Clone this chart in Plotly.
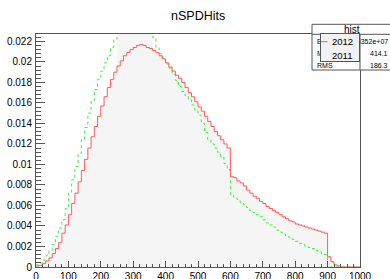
import plotly.graph_objects as go

# bin edges: 100 bins of width 10 from 0 to 1000
bin_lo = list(range(0, 1000, 10))

red_2012 = [0.0001, 0.00017, 0.00033, 0.00059, 0.00088, 0.0013, 0.0018, 0.0024, 0.0033, 0.0041,
            0.0051, 0.0062, 0.0072, 0.0083, 0.0094, 0.0105, 0.0116, 0.0127, 0.0137, 0.0147,
            0.0157, 0.0166, 0.0175, 0.0183, 0.0190, 0.0196, 0.0201, 0.0206, 0.0209, 0.0212,
            0.0214, 0.0216, 0.0217, 0.0216, 0.0214, 0.0213, 0.0211, 0.0209, 0.0206, 0.0203,
            0.0199, 0.0195, 0.0191, 0.0187, 0.0184, 0.0180, 0.0175, 0.0170, 0.0166, 0.0161,
            0.0156, 0.0152, 0.0147, 0.0142, 0.0137, 0.0132, 0.0128, 0.0124, 0.0120, 0.0116,
            0.0088, 0.0087, 0.0084, 0.0082, 0.0079, 0.0075, 0.0072, 0.0069, 0.0067, 0.0064,
            0.0062, 0.0059, 0.0057, 0.0055, 0.0053, 0.0051, 0.0049, 0.0047, 0.0045, 0.0044,
            0.0042, 0.0041, 0.0040, 0.0039, 0.0038, 0.0037, 0.0036, 0.0035, 0.0034, 0.0033,
            0.0010, 0.0005, 0.0002, 0.0001, 0.0, 0.0, 0.0, 0.0, 0.0, 0.0]

green_2011 = [0.0002, 0.0004, 0.0007, 0.0011, 0.0016, 0.0022, 0.0030, 0.0038, 0.0046, 0.0057,
              0.0072, 0.0085, 0.0098, 0.0111, 0.0124, 0.0136, 0.0150, 0.0162, 0.0173, 0.0183,
              0.0191, 0.0199, 0.0206, 0.0214, 0.0222, 0.0229, 0.0234, 0.0238, 0.0241, 0.0243,
              0.0244, 0.0244, 0.0243, 0.0241, 0.0237, 0.0231, 0.0224, 0.0214, 0.0208, 0.0202,
              0.0198, 0.0194, 0.0188, 0.0182, 0.0176, 0.0171, 0.0167, 0.0163, 0.0158, 0.0153,
              0.0148, 0.0140, 0.0131, 0.0124, 0.0120, 0.0116, 0.0112, 0.0107, 0.0101, 0.0095,
              0.0070, 0.0068, 0.0066, 0.0063, 0.0061, 0.0058, 0.0055, 0.0053, 0.0051, 0.0049,
              0.0046, 0.0043, 0.0041, 0.0039, 0.0036, 0.0034, 0.0032, 0.0030, 0.0029, 0.0027,
              0.0025, 0.0023, 0.0022, 0.0020, 0.0019, 0.0018, 0.0016, 0.0015, 0.0013, 0.0012,
              0.0, 0.0, 0.0, 0.0, 0.0, 0.0, 0.0, 0.0, 0.0, 0.0]

hist_fill = [0.0001, 0.00017, 0.00033, 0.00059, 0.00088, 0.0013, 0.0018, 0.0024, 0.0033, 0.0041,
             0.0051, 0.0062, 0.0072, 0.0083, 0.0094, 0.0105, 0.0116, 0.0127, 0.0137, 0.0147,
             0.0157, 0.0166, 0.0175, 0.0183, 0.0190, 0.0229, 0.0234, 0.0238, 0.0241, 0.0243,
             0.0244, 0.0244, 0.0243, 0.0241, 0.0237, 0.0231, 0.0211, 0.0209, 0.0206, 0.0203,
             0.0199, 0.0195, 0.0191, 0.0187, 0.0184, 0.0180, 0.0175, 0.0170, 0.0166, 0.0161,
             0.0156, 0.0152, 0.0147, 0.0142, 0.0137, 0.0132, 0.0128, 0.0124, 0.0120, 0.0116,
             0.0088, 0.0087, 0.0084, 0.0082, 0.0079, 0.0075, 0.0072, 0.0069, 0.0067, 0.0064,
             0.0062, 0.0059, 0.0057, 0.0055, 0.0053, 0.0051, 0.0049, 0.0047, 0.0045, 0.0044,
             0.0042, 0.0041, 0.0040, 0.0039, 0.0038, 0.0037, 0.0036, 0.0035, 0.0034, 0.0033,
             0.0010, 0.0005, 0.0002, 0.0001, 0.0, 0.0, 0.0, 0.0, 0.0, 0.0]

series_names = ["2012", "2011"]
stats_labels = ["Entries", "Mean", "RMS"]
stats_values = ["1.3352e+07", "414.1", "186.3"]

FONT = "Liberation Sans, Arial, sans-serif"
RED = "#ff5a5a"
GREEN = "#3fef3f"
FRAME = "#555555"
XMAX, YMAX = 1000, 0.02272

def steps(vals):
    xs = bin_lo + [1000]
    ys = vals + [vals[-1]]
    return xs, ys

W, H = 390, 279
L, R, T, B = 36, 30, 34, 12
PW, PH = W - L - R, H - T - B

def px(xp):
    return (xp - L) / PW

def py(yp):
    return (H - B - yp) / PH

fig = go.Figure()
x, y = steps(hist_fill)
fig.add_trace(go.Scatter(x=x, y=y, mode="lines", line=dict(shape="hv", width=0, color="#f5f5f5"),
                         fill="tozeroy", fillcolor="#f5f5f5", showlegend=False, hoverinfo="skip"))
x, y = steps(green_2011)
fig.add_trace(go.Scatter(x=x, y=y, mode="lines", name=series_names[1],
                         line=dict(shape="hv", width=1, color=GREEN, dash="dot"), showlegend=False))
x, y = steps(red_2012)
fig.add_trace(go.Scatter(x=x, y=y, mode="lines", name=series_names[0],
                         line=dict(shape="hv", width=1, color=RED), showlegend=False))

fig.update_layout(
    width=W, height=H, margin=dict(l=L, r=R, t=T, b=B, autoexpand=False),
    paper_bgcolor="white", plot_bgcolor="white",
    font=dict(family=FONT, size=10, color="black"),
    showlegend=False,
    xaxis=dict(range=[0, XMAX], dtick=100, tick0=0, ticks="inside", ticklen=6, tickcolor=FRAME,
               showline=True, linecolor=FRAME, linewidth=1, mirror=True, showgrid=False,
               zeroline=False, tickfont=dict(size=10), automargin=False,
               minor=dict(dtick=20, ticks="inside", ticklen=3, tickcolor=FRAME)),
    yaxis=dict(range=[0, YMAX], dtick=0.002, tick0=0, ticks="inside", ticklen=9, tickcolor=FRAME,
               showline=True, linecolor=FRAME, linewidth=1, mirror=True, showgrid=False,
               zeroline=False, tickfont=dict(size=10), ticklabelstandoff=1, automargin=False,
               minor=dict(dtick=0.0004, ticks="inside", ticklen=5, tickcolor=FRAME)),
)

shapes = []
annotations = []
# title
annotations.append(dict(text="nSPDHits", x=px(198), y=py(16), xref="paper", yref="paper",
                        showarrow=False, font=dict(size=12.5, family=FONT), xanchor="center", yanchor="middle"))
# stats box
shapes.append(dict(type="rect", xref="paper", yref="paper", x0=px(312), x1=px(392), y0=py(70), y1=py(24.3),
                   fillcolor="white", line=dict(color=FRAME, width=1), layer="above"))
shapes.append(dict(type="line", xref="paper", yref="paper", x0=px(312), x1=px(392), y0=py(34.3), y1=py(34.3),
                   line=dict(color=FRAME, width=1), layer="above"))
shapes.append(dict(type="line", xref="paper", yref="paper", x0=1, x1=1, y0=py(70), y1=py(34.3),
                   line=dict(color=FRAME, width=1), layer="above"))
annotations.append(dict(text="hist", x=px(351.5), y=py(29), xref="paper", yref="paper", showarrow=False,
                        font=dict(size=10, family=FONT), xanchor="center", yanchor="middle"))
for i, (lab, val) in enumerate(zip(stats_labels, stats_values)):
    yy = 41.7 + i * 11.7
    annotations.append(dict(text=lab, x=px(315), y=py(yy), xref="paper", yref="paper", showarrow=False,
                            font=dict(size=7, family=FONT), xanchor="left", yanchor="middle"))
    annotations.append(dict(text=val, x=px(389.5), y=py(yy), xref="paper", yref="paper", showarrow=False,
                            font=dict(size=7, family=FONT), xanchor="right", yanchor="middle"))
# legend box: an annotation box drawn after the stats text, so it covers it
annotations.append(dict(text=" ", x=px(320), y=py(33.3), xref="paper", yref="paper", showarrow=False,
                        xanchor="left", yanchor="top", width=38, height=27, bgcolor="#f2f2f2",
                        bordercolor=FRAME, borderwidth=1, borderpad=0, font=dict(size=6)))
leg_colors = [RED, GREEN]
for i, name in enumerate(series_names):
    yy = 41.7 + i * 14
    if i == 0:
        segs = [(321, 329)]
    else:
        segs = [(321, 322.5), (323.5, 325), (326, 327.5), (328.5, 330)]
    for (a, b) in segs:
        annotations.append(dict(text="", x=px(a), y=py(yy), xref="paper", yref="paper", showarrow=True,
                                arrowhead=0, ax=b - a, ay=0, arrowwidth=1, arrowcolor=leg_colors[i],
                                standoff=0, startstandoff=0))
    annotations.append(dict(text=name, x=px(330), y=py(yy), xref="paper", yref="paper", showarrow=False,
                            font=dict(size=9.5, family=FONT), xanchor="left", yanchor="middle"))

fig.update_layout(shapes=shapes, annotations=annotations)
fig.write_html("out.html", post_script="document.body.style.margin='0';",
               config={"displayModeBar": False})
